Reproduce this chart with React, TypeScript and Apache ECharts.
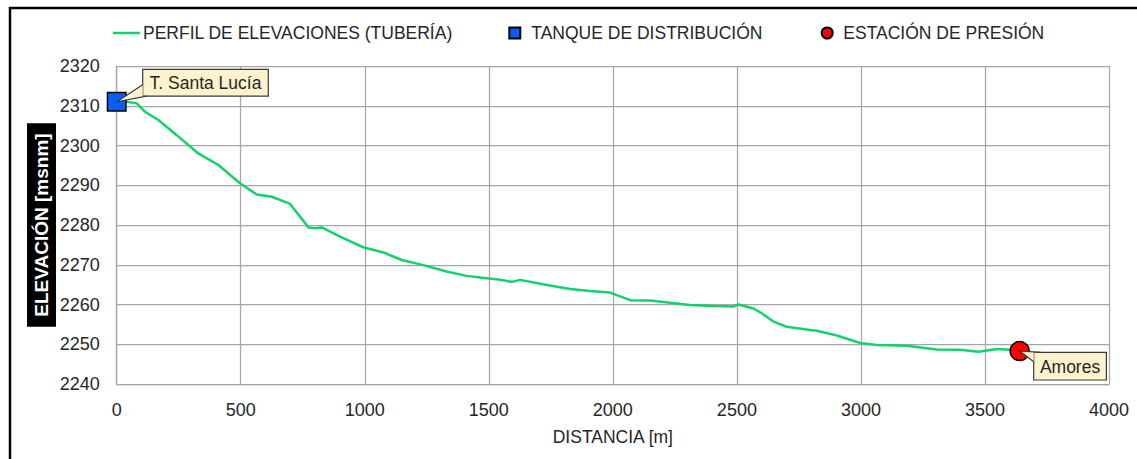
import React, { useEffect, useRef } from "react";
import * as echarts from "echarts";

// ---- Data ----
const distance = [
  0, 40, 81, 114, 168, 242, 329, 410, 497, 564, 625, 699, 773, 800, 827, 900,
  994, 1075, 1149, 1236, 1330, 1411, 1465, 1546, 1593, 1626, 1734, 1828, 1908,
  1989, 2070, 2150, 2311, 2405, 2486, 2506, 2567, 2600, 2647, 2701, 2795, 2822,
  2903, 2997, 3064, 3185, 3306, 3400, 3474, 3548, 3602, 3640,
];
const elevation = [
  2311.0, 2311.0, 2310.6, 2308.5, 2306.4, 2302.6, 2298.0, 2295.1, 2290.5,
  2287.7, 2287.1, 2285.3, 2279.4, 2279.2, 2279.4, 2277.1, 2274.4, 2273.1,
  2271.2, 2269.9, 2268.3, 2267.2, 2266.8, 2266.2, 2265.7, 2266.2, 2264.9,
  2263.9, 2263.4, 2263.0, 2261.1, 2261.0, 2259.9, 2259.6, 2259.5, 2260.0,
  2259.0, 2257.8, 2255.7, 2254.4, 2253.6, 2253.4, 2252.2, 2250.3, 2249.8,
  2249.6, 2248.7, 2248.6, 2248.1, 2248.8, 2248.6, 2248.3,
];
const tankDistance = [0];
const tankElevation = [2311.0];
const tankNames = ["T. Santa Lucía"];
const stationDistance = [3640];
const stationElevation = [2248.3];
const stationNames = ["Amores"];

const seriesNames = [
  "PERFIL DE ELEVACIONES (TUBERÍA)",
  "TANQUE DE DISTRIBUCIÓN",
  "ESTACIÓN DE PRESIÓN",
];
const xAxisTitle = "DISTANCIA [m]";
const yAxisTitle = "ELEVACIÓN [msnm]";

// ---- Styling / layout ----
const FONT = "'Liberation Sans', Arial, sans-serif";
const TEXT = "#262626";
const GRIDC = "#A6A6A6";
const FS = 17.5;
const GREEN = "#14D26B";

// callout geometry relative to the marker centre (style, not data)
const CALLOUT_LAYOUT = [
  { dx: 26, dy: -32.4, w: 125.6, h: 26.7, wedge: (bx: number, by: number, w: number, h: number) => [[bx, by + h * 0.58], [bx, by + h], [bx + 4, by + h]] },
  { dx: 14, dy: 1.3, w: 72.7, h: 27.7, wedge: (bx: number, by: number, w: number, h: number) => [[bx + 7, by], [bx, by], [bx, by + 9.4]] },
];

export default function App() {
  const ref = useRef<HTMLDivElement>(null);

  useEffect(() => {
    if (!ref.current) return;
    const chart = echarts.init(ref.current, null, { renderer: "svg" });

    const lineData = distance.map((d, i) => [d, elevation[i]]);
    const tankData = tankDistance.map((d, i) => [d, tankElevation[i]]);
    const stationData = stationDistance.map((d, i) => [d, stationElevation[i]]);
    const calloutData = [
      ...tankDistance.map((d, i) => ({ value: [d, tankElevation[i]], name: tankNames[i] })),
      ...stationDistance.map((d, i) => ({ value: [d, stationElevation[i]], name: stationNames[i] })),
    ];
    const calloutNames = [...tankNames, ...stationNames];

    const legendBase = {
      top: 24,
      padding: 0,
      itemHeight: 11,
      textStyle: { color: TEXT, fontSize: FS, fontFamily: FONT },
    };

    chart.setOption({
      animation: false,
      backgroundColor: "#ffffff",
      textStyle: { fontFamily: FONT },
      grid: { left: 116.7, right: 28, top: 66, bottom: 75 },
      legend: [
        {
          ...legendBase,
          left: 113,
          itemWidth: 27,
          itemHeight: 2.5,
          data: [{ name: seriesNames[0], icon: "rect", itemStyle: { color: GREEN, borderWidth: 0 } }],
          textStyle: { ...legendBase.textStyle, padding: [0, 0, 0, -2] },
        },
        { ...legendBase, left: 508.3, itemWidth: 11, data: [{ name: seriesNames[1], icon: "rect" }], textStyle: { ...legendBase.textStyle, padding: [0, 0, 0, 6] } },
        { ...legendBase, left: 820.7, itemWidth: 11, data: [{ name: seriesNames[2], icon: "circle" }], textStyle: { ...legendBase.textStyle, padding: [0, 0, 0, 5.6] } },
      ],
      xAxis: {
        type: "value",
        min: 0,
        max: 4000,
        interval: 500,
        name: xAxisTitle,
        nameLocation: "middle",
        nameGap: 43.5,
        nameMoveOverlap: false,
        nameTextStyle: { color: TEXT, fontSize: FS, fontFamily: FONT },
        axisLine: { show: true, lineStyle: { color: GRIDC, width: 1.25 } },
        axisTick: { show: false },
        axisLabel: { color: TEXT, fontSize: 18, fontFamily: FONT, margin: 17, formatter: (v: number) => String(v) },
        splitLine: { show: true, lineStyle: { color: GRIDC, width: 1.25 } },
      },
      yAxis: {
        type: "value",
        min: 2240,
        max: 2320,
        interval: 10,
        name: yAxisTitle,
        nameLocation: "middle",
        nameGap: 60.7,
        nameMoveOverlap: false,
        nameTextStyle: {
          color: "#ffffff",
          backgroundColor: "#000000",
          fontWeight: "bold",
          fontSize: 19,
          fontFamily: FONT,
          padding: [5, 10, 5, 10],
        },
        axisLine: { show: true, lineStyle: { color: GRIDC, width: 1.25 } },
        axisTick: { show: false },
        axisLabel: { color: TEXT, fontSize: 18, fontFamily: FONT, margin: 17, formatter: (v: number) => String(v) },
        splitLine: { show: true, lineStyle: { color: GRIDC, width: 1.25 } },
      },
      graphic: [
        {
          type: "rect",
          silent: true,
          shape: { x: 10, y: 8, width: 1200, height: 500 },
          style: { fill: "none", stroke: "#000000", lineWidth: 2.5 },
          z: 100,
        },
      ],
      series: [
        {
          name: seriesNames[0],
          type: "line",
          data: lineData,
          showSymbol: false,
          symbol: "none",
          lineStyle: { color: GREEN, width: 2.5 },
          itemStyle: { color: GREEN },
          z: 2,
        },
        {
          name: seriesNames[1],
          type: "scatter",
          data: tankData,
          symbol: "rect",
          symbolSize: 18.5,
          clip: false,
          itemStyle: { color: "#0A5CFF", borderColor: "#000000", borderWidth: 1.5, opacity: 1 },
          z: 3,
        },
        {
          name: seriesNames[2],
          type: "scatter",
          data: stationData,
          symbol: "circle",
          symbolSize: 19,
          clip: false,
          itemStyle: { color: "#FF0000", borderColor: "#000000", borderWidth: 1.5, opacity: 1 },
          z: 3,
        },
        {
          name: "callouts",
          type: "custom",
          coordinateSystem: "cartesian2d",
          data: calloutData,
          clip: false,
          silent: true,
          z: 4,
          renderItem: (params: any, api: any) => {
            const i = params.dataIndex;
            const pt = api.coord([api.value(0), api.value(1)]);
            const L = CALLOUT_LAYOUT[i];
            const bx = pt[0] + L.dx;
            const by = pt[1] + L.dy;
            const wp = L.wedge(bx, by, L.w, L.h);
            const fill = "#FFF2CC";
            const stroke = "#3a3a3a";
            return {
              type: "group",
              children: [
                {
                  type: "rect",
                  shape: { x: bx, y: by, width: L.w, height: L.h },
                  style: { fill, stroke, lineWidth: 1.2 },
                },
                {
                  type: "polygon",
                  shape: { points: [[pt[0], pt[1]], wp[0], wp[1], wp[2]] },
                  style: { fill, stroke: "none" },
                },
                {
                  type: "polyline",
                  shape: { points: [wp[0], [pt[0], pt[1]], wp[2]] },
                  style: { fill: "none", stroke, lineWidth: 1.2 },
                },
                {
                  type: "text",
                  style: {
                    text: calloutNames[i],
                    x: bx + L.w / 2,
                    y: by + L.h / 2 + 0.5,
                    align: "center",
                    verticalAlign: "middle",
                    fill: TEXT,
                    fontSize: FS,
                    fontFamily: FONT,
                  },
                },
              ],
            };
          },
        },
      ],
    });

    return () => chart.dispose();
  }, []);

  return (
    <div
      ref={ref}
      style={{ position: "absolute", left: 0, top: 0, width: 1137, height: 459 }}
    />
  );
}
